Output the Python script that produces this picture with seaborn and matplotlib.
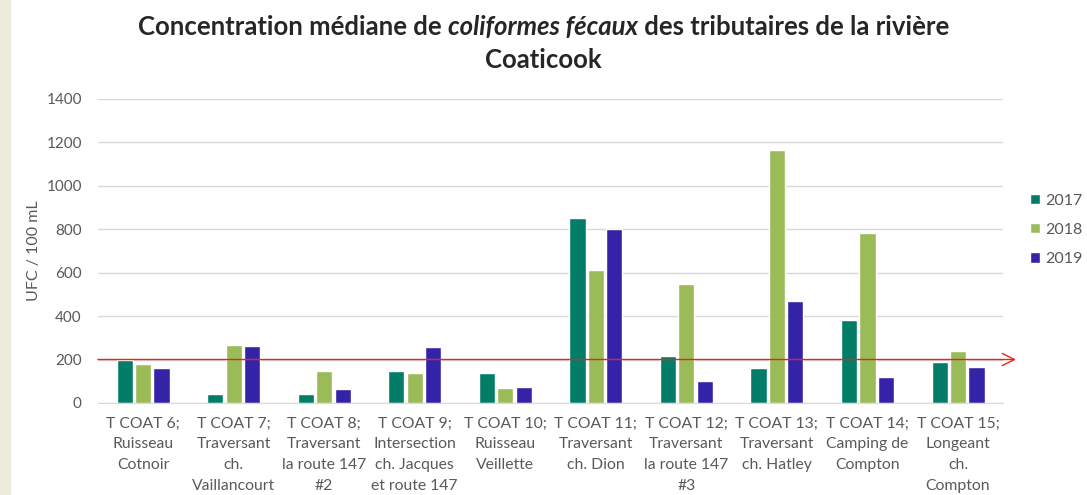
import numpy as np
import pandas as pd
import matplotlib
matplotlib.use("Agg")
import matplotlib.pyplot as plt
import seaborn as sns
from matplotlib.patches import Rectangle

# données
stations = [
    "T COAT 6;\nRuisseau\nCotnoir",
    "T COAT 7;\nTraversant\nch.\nVaillancourt",
    "T COAT 8;\nTraversant\nla route 147\n#2",
    "T COAT 9;\nIntersection\nch. Jacques\net route 147",
    "T COAT 10;\nRuisseau\nVeillette",
    "T COAT 11;\nTraversant\nch. Dion",
    "T COAT 12;\nTraversant\nla route 147\n#3",
    "T COAT 13;\nTraversant\nch. Hatley",
    "T COAT 14;\nCamping de\nCompton",
    "T COAT 15;\nLongeant\nch.\nCompton",
]
years = ["2017", "2018", "2019"]
v2017 = [198, 43, 40, 148, 140, 850, 218, 160, 381, 189]
v2018 = [178, 267, 148, 140, 69, 612, 549, 1166, 785, 238]
v2019 = [160, 260, 65, 257, 72, 799, 103, 470, 118, 164]
seuil = 200

colors = ["#037D68", "#9BBB59", "#3423A6"]

df = pd.DataFrame({
    "station": stations * 3,
    "annee": [years[0]] * 10 + [years[1]] * 10 + [years[2]] * 10,
    "ufc": v2017 + v2018 + v2019,
})

sns.set_style("white")
fam = ['Lato', 'DejaVu Sans']
plt.rcParams['font.family'] = fam

fig = plt.figure(figsize=(10.87, 4.95), dpi=100)
fig.patches.append(Rectangle((0, 0), 0.009, 1, transform=fig.transFigure,
                             color="#ecebdc", zorder=0))
ax = fig.add_axes([0.090, 0.186, 0.833, 0.614])

sns.barplot(data=df, x="station", y="ufc", hue="annee", palette=colors,
            width=0.61, gap=0.12, saturation=1, ax=ax, legend=True)

ax.set_ylim(0, 1400)
ax.set_yticks(range(0, 1401, 200))
ax.set_xlim(-0.5, 9.5)
ax.yaxis.grid(True, color="#d9d9d9", lw=1)
ax.set_axisbelow(True)
for s in ["top", "right", "left"]:
    ax.spines[s].set_visible(False)
ax.spines["bottom"].set_color("#d9d9d9")
ax.tick_params(axis="both", length=0, labelcolor="#595959")
ax.tick_params(axis="y", labelsize=11, pad=11.5)
ax.tick_params(axis="x", labelsize=11.3, pad=10)
plt.setp(ax.get_xticklabels(), linespacing=1.6)
ax.set_xlabel("")
ax.set_ylabel("UFC / 100 mL", fontsize=11.5, color="#595959", labelpad=4)

# ligne de seuil avec flèche
ax.annotate("", xy=(1.014, seuil), xytext=(0, seuil),
            xycoords=("axes fraction", "data"), textcoords=("axes fraction", "data"),
            arrowprops=dict(arrowstyle="->", color="#e8231f", lw=1,
                            mutation_scale=22, shrinkA=0, shrinkB=0),
            annotation_clip=False)

leg = ax.legend(loc="center left", bbox_to_anchor=(1.022, 0.57), frameon=False,
                fontsize=11.5, handlelength=0.65, handleheight=0.65,
                handletextpad=0.3, labelspacing=0.95, borderaxespad=0)
for t in leg.get_texts():
    t.set_color("#595959")

# titre avec partie en italique
parts = [("Concentration médiane de ", "normal"), ("coliformes fécaux", "italic"),
         (" des tributaires de la rivière", "normal")]
texts = [fig.text(0, 0.945, p, fontsize=16, fontweight="bold", style=st,
                  ha="left", va="center") for p, st in parts]
fig.canvas.draw()
r = fig.canvas.get_renderer()
widths = [t.get_window_extent(r).width / fig.bbox.width for t in texts]
k = (815 / 1087) / sum(widths)
for t in texts:
    t.set_fontsize(16 * k)
fig.canvas.draw()
widths = [t.get_window_extent(r).width / fig.bbox.width for t in texts]
x = 0.5 - sum(widths) / 2
for t, w in zip(texts, widths):
    t.set_x(x)
    x += w
fig.text(0.5, 0.879, "Coaticook", fontsize=16 * k, fontweight="bold",
         ha="center", va="center")

plt.savefig("out.png", dpi=100)
